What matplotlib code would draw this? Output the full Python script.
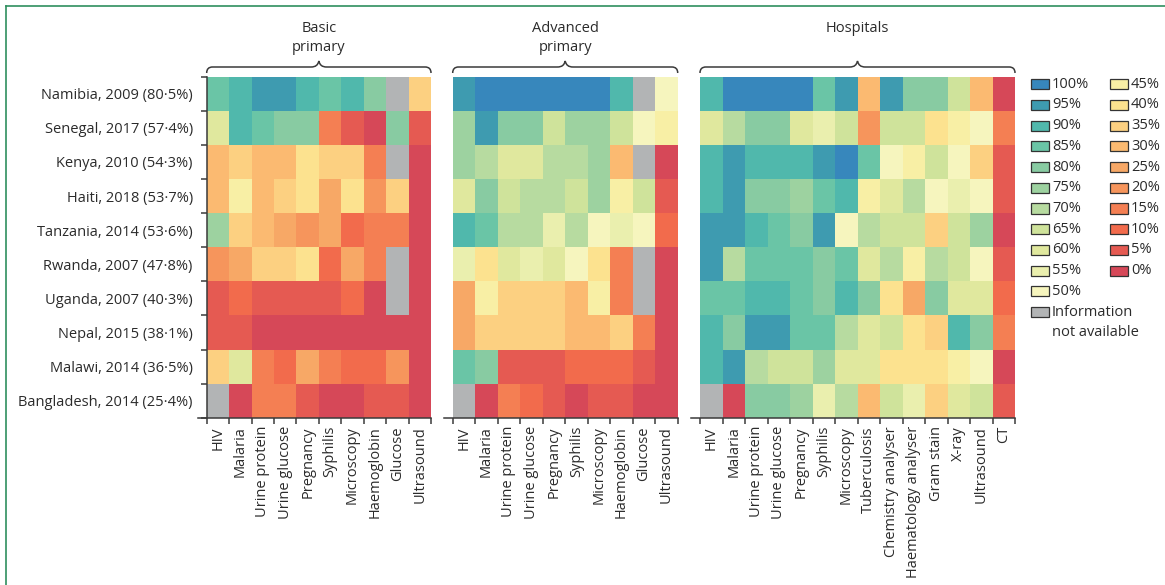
import numpy as np
import matplotlib
matplotlib.use('Agg')
import matplotlib.pyplot as plt
from matplotlib.colors import ListedColormap, BoundaryNorm
from matplotlib.patches import Rectangle, PathPatch
from matplotlib.path import Path
from matplotlib.lines import Line2D

plt.rcParams['font.family'] = ['Open Sans', 'DejaVu Sans']

NA = np.nan

countries = ['Namibia, 2009 (80·5%)', 'Senegal, 2017 (57·4%)', 'Kenya, 2010 (54·3%)',
             'Haiti, 2018 (53·7%)', 'Tanzania, 2014 (53·6%)', 'Rwanda, 2007 (47·8%)',
             'Uganda, 2007 (40·3%)', 'Nepal, 2015 (38·1%)', 'Malawi, 2014 (36·5%)',
             'Bangladesh, 2014 (25·4%)']

primary_tests = ['HIV', 'Malaria', 'Urine protein', 'Urine glucose', 'Pregnancy',
                 'Syphilis', 'Microscopy', 'Haemoglobin', 'Glucose', 'Ultrasound']
hospital_tests = ['HIV', 'Malaria', 'Urine protein', 'Urine glucose', 'Pregnancy',
                  'Syphilis', 'Microscopy', 'Tuberculosis', 'Chemistry analyser',
                  'Haematology analyser', 'Gram stain', 'X-ray', 'Ultrasound', 'CT']

# % of facilities with each diagnostic (5% steps)
basic = [
    [85, 90, 95, 95, 90, 85, 90, 80, NA, 35],
    [60, 90, 85, 80, 80, 15, 5, 0, 80, 5],
    [30, 35, 30, 30, 40, 35, 35, 15, NA, 0],
    [30, 45, 30, 35, 40, 25, 40, 20, 35, 0],
    [75, 35, 30, 25, 20, 25, 10, 15, 15, 0],
    [20, 25, 35, 35, 40, 10, 25, 15, NA, 0],
    [5, 10, 5, 5, 5, 5, 10, 0, NA, 0],
    [5, 5, 0, 0, 0, 0, 0, 0, 0, 0],
    [35, 60, 15, 10, 25, 15, 10, 10, 20, 0],
    [NA, 0, 15, 15, 5, 0, 0, 5, 5, 0],
]
advanced = [
    [95, 100, 100, 100, 100, 100, 100, 90, NA, 50],
    [75, 95, 80, 80, 65, 75, 75, 65, 50, 45],
    [75, 70, 60, 60, 70, 70, 75, 30, NA, 0],
    [60, 80, 65, 70, 70, 65, 75, 45, 65, 5],
    [90, 85, 70, 70, 55, 70, 50, 55, 50, 10],
    [55, 40, 60, 55, 60, 50, 40, 15, NA, 0],
    [25, 45, 35, 35, 35, 30, 45, 15, NA, 0],
    [25, 35, 35, 35, 35, 30, 30, 35, 15, 0],
    [85, 80, 5, 5, 5, 10, 10, 10, 5, 0],
    [NA, 0, 15, 10, 5, 0, 5, 5, 0, 0],
]
hospitals = [
    [90, 100, 100, 100, 100, 85, 95, 30, 95, 80, 80, 65, 30, 0],
    [60, 70, 80, 80, 60, 55, 65, 20, 65, 65, 40, 45, 50, 15],
    [90, 95, 90, 90, 90, 95, 100, 85, 50, 45, 65, 50, 35, 5],
    [90, 95, 80, 80, 75, 85, 90, 45, 60, 70, 50, 55, 50, 5],
    [95, 95, 90, 85, 80, 95, 50, 70, 65, 65, 35, 65, 75, 0],
    [95, 70, 85, 85, 85, 80, 85, 60, 70, 45, 70, 65, 50, 5],
    [85, 85, 90, 90, 85, 80, 90, 80, 40, 25, 80, 60, 60, 10],
    [90, 80, 95, 95, 85, 85, 70, 60, 65, 40, 35, 90, 80, 15],
    [90, 95, 70, 65, 65, 75, 60, 60, 40, 40, 40, 45, 50, 0],
    [NA, 0, 80, 80, 75, 55, 70, 30, 65, 55, 35, 60, 65, 5],
]

panel_titles = ['Basic\nprimary', 'Advanced\nprimary', 'Hospitals']

# legend levels, 0% .. 100%
levels = list(range(0, 105, 5))
level_colors = ['#d64858', '#e55a52', '#f26b4c', '#f47f53', '#f6955c', '#f7a866',
                '#fbba71', '#fcd081', '#fce28f', '#f8efa5', '#f6f5be', '#eaefae',
                '#e0e89e', '#cfe39b', '#b7dba0', '#9dd2a0', '#88cba2', '#6ac5a6',
                '#50b8ac', '#3e9bb0', '#3787bc']
na_color = '#b2b4b5'
text_col = '#2b2b2b'
line_col = '#3a3a3a'
fs = 10.5

cmap = ListedColormap(level_colors)
cmap.set_bad(na_color)
norm = BoundaryNorm(np.arange(-2.5, 103, 5), cmap.N)

W, H = 1165, 585
fig = plt.figure(figsize=(W / 100, H / 100), dpi=100)


def fx(x):
    return x / W


def fy(y):
    return 1 - y / H


def brace(x0, x1):
    xc = (x0 + x1) / 2
    yt, ye, yp = 67, 73, 61
    pts = [(x0, ye), (x0, 69), (x0 + 2, yt), (x0 + 6, yt),
           (xc - 8, yt),
           (xc - 3, yt), (xc - 1, 65), (xc, yp),
           (xc + 1, 65), (xc + 3, yt), (xc + 8, yt),
           (x1 - 6, yt),
           (x1 - 2, yt), (x1, 69), (x1, ye)]
    codes = [Path.MOVETO, Path.CURVE4, Path.CURVE4, Path.CURVE4, Path.LINETO,
             Path.CURVE4, Path.CURVE4, Path.CURVE4, Path.CURVE4, Path.CURVE4, Path.CURVE4,
             Path.LINETO, Path.CURVE4, Path.CURVE4, Path.CURVE4]
    path = Path([(fx(a), fy(b)) for a, b in pts], codes)
    fig.add_artist(PathPatch(path, fc='none', ec=line_col, lw=1.1,
                             transform=fig.transFigure))


top, bottom = 76.7, 417.7
panels = [(basic, primary_tests, 206.7, 431),
          (advanced, primary_tests, 452.7, 677.7),
          (hospitals, hospital_tests, 700, 1015)]
ext_px = 9

for k, (vals, tests, x0, x1) in enumerate(panels):
    data = np.ma.masked_invalid(np.array(vals, dtype=float))
    nrow, ncol = data.shape
    colw = (x1 - x0) / ncol
    ext = ext_px / colw
    ax = fig.add_axes([fx(x0 - ext_px), fy(bottom), (x1 - x0 + ext_px) / W, (bottom - top) / H])
    ax.pcolormesh(np.arange(ncol + 1), np.arange(nrow + 1), data, cmap=cmap, norm=norm)
    ax.set_xlim(-ext, ncol)
    ax.set_ylim(nrow, 0)
    for s in ['top', 'right']:
        ax.spines[s].set_visible(False)
    ax.spines['bottom'].set_color(line_col)
    ax.spines['bottom'].set_linewidth(1.1)

    ax.set_xticks(np.arange(ncol + 1))
    ax.set_xticklabels([])
    ax.set_xticks(np.arange(ncol) + 0.5, minor=True)
    ax.set_xticklabels(tests, minor=True, rotation=90, fontsize=fs, color=text_col)
    ax.tick_params(axis='x', which='major', length=4.5, width=1.1, color=line_col)
    ax.tick_params(axis='x', which='minor', length=0, pad=6)

    if k == 0:
        ax.spines['left'].set_position(('data', 0))
        ax.spines['left'].set_color(line_col)
        ax.spines['left'].set_linewidth(1.1)
        ax.set_yticks(np.arange(nrow + 1))
        ax.set_yticklabels([])
        ax.set_yticks(np.arange(nrow) + 0.5, minor=True)
        ax.set_yticklabels(countries, minor=True, fontsize=fs, color=text_col)
        ax.tick_params(axis='y', which='major', length=4.5, width=1.1, color=line_col)
        ax.tick_params(axis='y', which='minor', length=0, pad=10)
    else:
        ax.spines['left'].set_visible(False)
        ax.set_yticks([])

    brace(x0, x1)
    if '\n' in panel_titles[k]:
        fig.text(fx((x0 + x1) / 2), fy(38), panel_titles[k], ha='center', va='center',
                 fontsize=fs, color=text_col, linespacing=1.4)
    else:
        fig.text(fx((x0 + x1) / 2), fy(28), panel_titles[k], ha='center', va='center',
                 fontsize=fs, color=text_col)

# legend, two columns drawn by hand
row0, step = 84.3, 20.7
col_x = [1031, 1110]
entries = [(str(v) + '%', level_colors[i]) for i, v in enumerate(levels)][::-1]
for i, (lab, col) in enumerate(entries):
    c = 0 if i < 11 else 1
    r = i if i < 11 else i - 11
    yc = row0 + r * step
    fig.add_artist(Rectangle((fx(col_x[c]), fy(yc + 5)), 18 / W, 10 / H, fc=col,
                             ec='#333333', lw=0.9, transform=fig.transFigure))
    fig.text(fx(col_x[c] + 21), fy(yc), lab, ha='left', va='center', fontsize=fs,
             color=text_col)
yc = row0 + 11 * step
fig.add_artist(Rectangle((fx(col_x[0]), fy(yc + 5)), 18 / W, 10 / H, fc=na_color,
                         ec='#333333', lw=0.9, transform=fig.transFigure))
fig.text(fx(col_x[0] + 21), fy(yc), 'Information', ha='left', va='center', fontsize=fs,
         color=text_col)
fig.text(fx(col_x[0] + 21), fy(yc + step), 'not available', ha='left', va='center',
         fontsize=fs, color=text_col)

# frame lines at top and left
frame = '#2f8f5f'
fig.add_artist(Line2D([fx(5.5), 1], [fy(6), fy(6)], color=frame, lw=1.2,
                      transform=fig.transFigure))
fig.add_artist(Line2D([fx(5.5), fx(5.5)], [fy(6), 0], color=frame, lw=1.2,
                      transform=fig.transFigure))

fig.savefig('out.png', dpi=100)
